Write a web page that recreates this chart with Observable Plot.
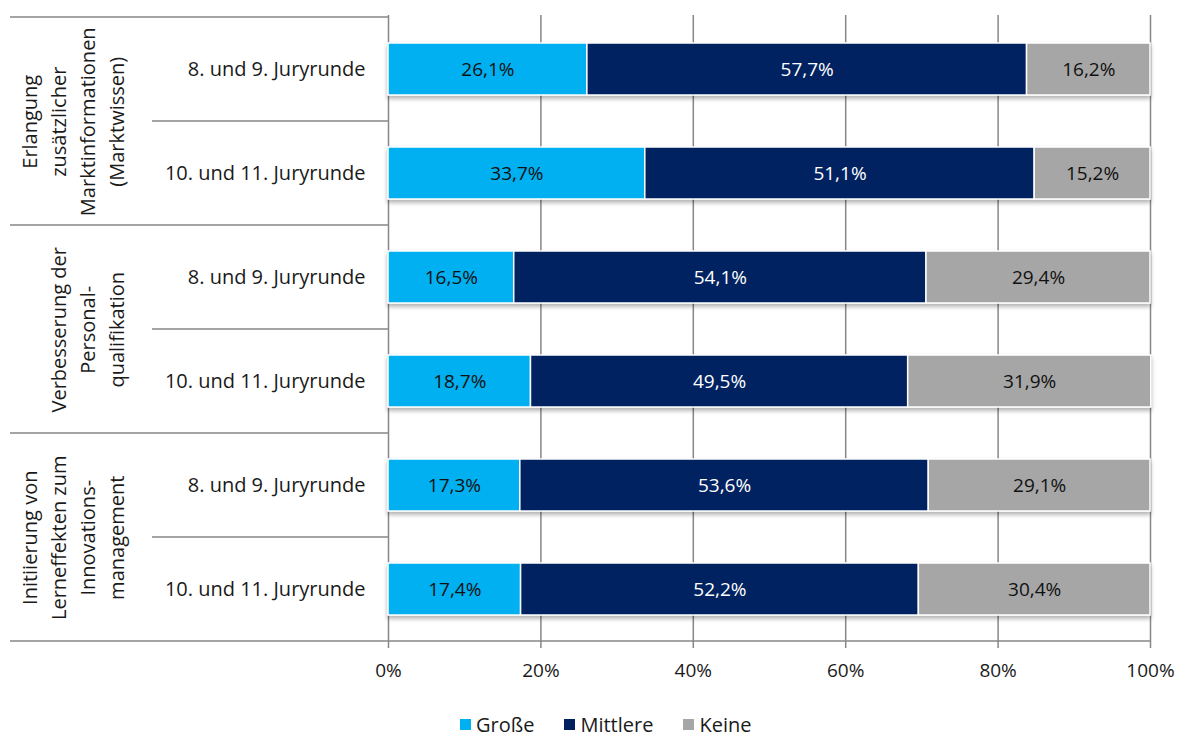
<!DOCTYPE html>
<html>
<head>
<meta charset="utf-8">
<script src="https://cdn.jsdelivr.net/npm/d3@7"></script>
<script src="https://cdn.jsdelivr.net/npm/@observablehq/plot@0.6"></script>
<style>
  html, body { margin: 0; padding: 0; background: #fff; }
  body { font-family: "Open Sans", sans-serif; width: 1180px; height: 736px; }
  #chart svg { display: block; }
  #legend { padding: 13px 0 0 460px; height: 23px; display: flex; align-items: center; font-size: 20px; line-height: 20px; color: #1a1a1a; }
  #legend .item { display: flex; align-items: center; margin-right: 30px; }
  #legend .sw { width: 11px; height: 11px; margin-right: 5px; }
</style>
</head>
<body>
<div id="chart"></div>
<div id="legend"></div>
<script>
// ---- data ----
const groupLabels = [
  "Erlangung\nzusätzlicher\nMarktinformationen\n(Marktwissen)",
  "Verbesserung der\nPersonal-\nqualifikation",
  "Initiierung von\nLerneffekten zum\nInnovations-\nmanagement"
];
const rounds = ["8. und 9. Juryrunde", "10. und 11. Juryrunde"];
const series = ["Große", "Mittlere", "Keine"];
const grosse   = [26.1, 33.7, 16.5, 18.7, 17.3, 17.4];
const mittlere = [57.7, 51.1, 54.1, 49.5, 53.6, 52.2];
const keine    = [16.2, 15.2, 29.4, 31.9, 29.1, 30.4];
const colors = ["#00B0F0", "#002060", "#A6A6A6"];
const xTicks = [0, 20, 40, 60, 80, 100];

// ---- build table ----
const rows = [];
groupLabels.forEach((g, gi) => rounds.forEach((r, ri) => rows.push({key: `${gi}-${ri}`, group: gi, round: r})));
const seriesValues = [grosse, mittlere, keine];
const data = [];
rows.forEach((row, i) => series.forEach((s, si) => data.push({key: row.key, round: row.round, series: s, value: seriesValues[si][i]})));
const keys = rows.map(r => r.key);
const roundOf = Object.fromEntries(rows.map(r => [r.key, r.round]));
const groupData = groupLabels.map((label, gi) => ({label, key: `${gi}-0`}));
const fmt = v => v.toFixed(1).replace(".", ",") + "%";

const W = 1180, H = 700, mt = 15, mb = 58, ml = 388, mr = 30;
const step = (H - mt - mb) / keys.length;
const grid = "#878787";
const FS = 19, FL = 20, ink = "#1a1a1a";

const plot = Plot.plot({
  width: W, height: H,
  marginTop: mt, marginBottom: mb, marginLeft: ml, marginRight: mr,
  style: {fontFamily: "'Open Sans', sans-serif", fontSize: FS + "px", color: ink, background: "white"},
  x: {domain: [0, 100], axis: null},
  y: {domain: keys, axis: null, paddingInner: 0.5, paddingOuter: 0.25},
  color: {domain: series, range: colors},
  marks: [
    Plot.ruleX(xTicks, {stroke: grid, strokeWidth: 1.5, insetBottom: -6}),
    Plot.barX(data, Plot.stackX({x: "value", y: "key", z: "series", fill: "series", stroke: "white", strokeWidth: 1.5})),
    Plot.text(data, Plot.stackX({x: "value", y: "key", z: "series",
      text: d => d.series === "Mittlere" ? fmt(d.value) : null, fill: "white", fontSize: FS})),
    Plot.text(data, Plot.stackX({x: "value", y: "key", z: "series",
      text: d => d.series !== "Mittlere" ? fmt(d.value) : null, fill: "#111", fontSize: FS})),
    Plot.axisX(xTicks, {label: null, tickSize: 0, tickPadding: 21, tickFormat: d => d + "%", fontSize: FS, fill: ink}),
    Plot.axisY({label: null, tickSize: 0, tickPadding: 23, tickFormat: k => roundOf[k], fontSize: FL, fill: ink}),
    Plot.text(groupData, {x: 0, y: "key", text: "label", dx: -265, dy: step / 2,
      rotate: -90, textAnchor: "middle", lineAnchor: "bottom", lineHeight: 1.45, fontSize: FL, fill: ink})
  ]
});
document.getElementById("chart").appendChild(plot);

// separators of the left label table and the bottom axis line, placed via the y scale
const svg = d3.select(plot);
const ys = plot.scale("y");
const st = ys.step || step;
const yTop = ys.apply(keys[0]) - st * ys.paddingOuter;
const lines = svg.append("g").attr("stroke", grid).attr("stroke-width", 1.5);
for (let i = 0; i <= keys.length; i++) {
  const y = yTop + i * st;
  const x1 = i % 2 === 0 ? 10 : 152;
  const x2 = i === keys.length ? W - mr : ml;
  lines.append("line").attr("x1", x1).attr("x2", x2).attr("y1", y).attr("y2", y);
}
// soft shadow under the bars
const defs = svg.insert("defs", ":first-child");
defs.append("filter").attr("id", "sh").attr("x", "-5%").attr("y", "-20%").attr("width", "110%").attr("height", "160%")
  .append("feDropShadow").attr("dx", 0).attr("dy", 3).attr("stdDeviation", 2)
  .attr("flood-color", "#000").attr("flood-opacity", 0.3);
svg.selectAll('g[aria-label="bar"]').attr("filter", "url(#sh)");

// legend
const legend = d3.select("#legend");
series.forEach((s, i) => {
  const it = legend.append("div").attr("class", "item");
  it.append("div").attr("class", "sw").style("background", colors[i]);
  it.append("span").text(s);
});
</script>
</body>
</html>
